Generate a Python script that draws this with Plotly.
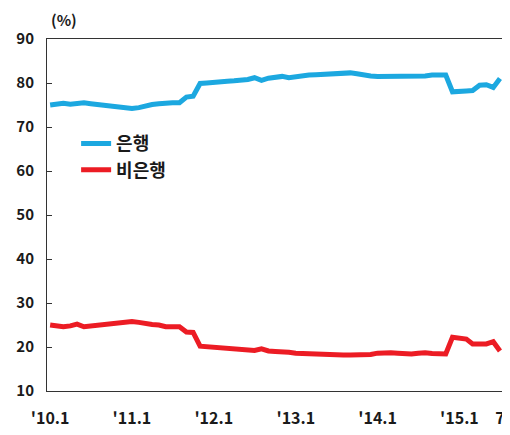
import plotly.graph_objects as go
import pandas as pd

months = pd.date_range("2010-01-01", "2015-07-01", freq="MS")

bank = [
    75.0, 75.1, 75.4, 75.2, 75.3, 75.5, 75.3, 75.1, 74.9, 74.7, 74.5, 74.3,
    74.2, 74.4, 74.8, 75.1, 75.3, 75.5, 75.5, 75.5, 76.8, 77.0, 79.9, 80.0,
    80.2, 80.3, 80.4, 80.5, 80.6, 80.8, 81.2, 80.6, 81.1, 81.4, 81.5, 81.2,
    81.5, 81.7, 81.8, 81.9, 82.0, 82.2, 82.3, 82.3, 82.3, 82.1, 81.8, 81.6,
    81.5, 81.5, 81.5, 81.6, 81.7, 81.6, 81.5, 81.6, 81.8, 81.8, 81.8, 78.0,
    78.0, 78.2, 78.3, 79.5, 79.6, 79.0, 81.0,
]

nonbank = [
    25.0, 24.9, 24.6, 24.8, 25.2, 24.6, 24.8, 25.0, 25.2, 25.4, 25.5, 25.6,
    25.8, 25.6, 25.3, 25.1, 25.0, 24.6, 24.6, 24.6, 23.4, 23.3, 20.2, 20.1,
    19.9, 19.8, 19.7, 19.6, 19.6, 19.5, 19.2, 19.6, 19.1, 19.0, 19.0, 18.8,
    18.6, 18.5, 18.5, 18.5, 18.3, 18.2, 18.2, 18.2, 18.2, 18.2, 18.2, 18.3,
    18.6, 18.7, 18.7, 18.6, 18.4, 18.4, 18.6, 18.7, 18.5, 18.4, 18.4, 22.2,
    22.0, 21.8, 20.7, 20.6, 20.7, 21.2, 19.1,
]

tick_vals = ["2010-01-01", "2011-01-01", "2012-01-01", "2013-01-01",
             "2014-01-01", "2015-01-01", "2015-07-01"]
tick_text = ["'10.1", "'11.1", "'12.1", "'13.1", "'14.1", "'15.1", "7"]

BLUE = "#1CA8E0"
RED = "#EC1C24"
FONT = "Noto Sans CJK KR"

fig = go.Figure()
fig.add_trace(go.Scatter(x=months, y=bank, mode="lines", name="은행",
                         line=dict(color=BLUE, width=5)))
fig.add_trace(go.Scatter(x=months, y=nonbank, mode="lines", name="비은행",
                         line=dict(color=RED, width=5)))

fig.update_layout(
    width=502, height=427,
    margin=dict(l=39, r=8, t=31, b=44, autoexpand=False),
    paper_bgcolor="white", plot_bgcolor="white",
    font=dict(family=FONT, size=15, color="#1a1a1a", weight="bold"),
    showlegend=True,
    legend=dict(x=0.064, y=0.755, xanchor="left", yanchor="top",
                bgcolor="rgba(0,0,0,0)",
                font=dict(size=18, color="#1a1a1a", weight="bold"),
                itemwidth=30),
    annotations=[dict(text="(%)", xref="paper", yref="paper", x=0.005, y=1.0,
                      yshift=7, xanchor="left", yanchor="bottom", showarrow=False,
                      font=dict(size=15, family=FONT, color="#1a1a1a",
                                weight="bold"))],
)
fig.update_xaxes(
    range=["2009-12-18", "2015-07-10"],
    tickvals=tick_vals, ticktext=tick_text, ticks="",
    showline=True, linecolor="#333", linewidth=1, mirror=True,
    showgrid=False, zeroline=False, tickfont=dict(size=16),
    ticklabelstandoff=13,
)
fig.update_yaxes(
    range=[10, 90], dtick=10, ticks="inside", ticklen=5, tickcolor="#333",
    showline=True, linecolor="#333", linewidth=1, mirror=True,
    showgrid=False, zeroline=False, tickfont=dict(size=15),
    ticklabelstandoff=9,
)

fig.write_html("out.html")
